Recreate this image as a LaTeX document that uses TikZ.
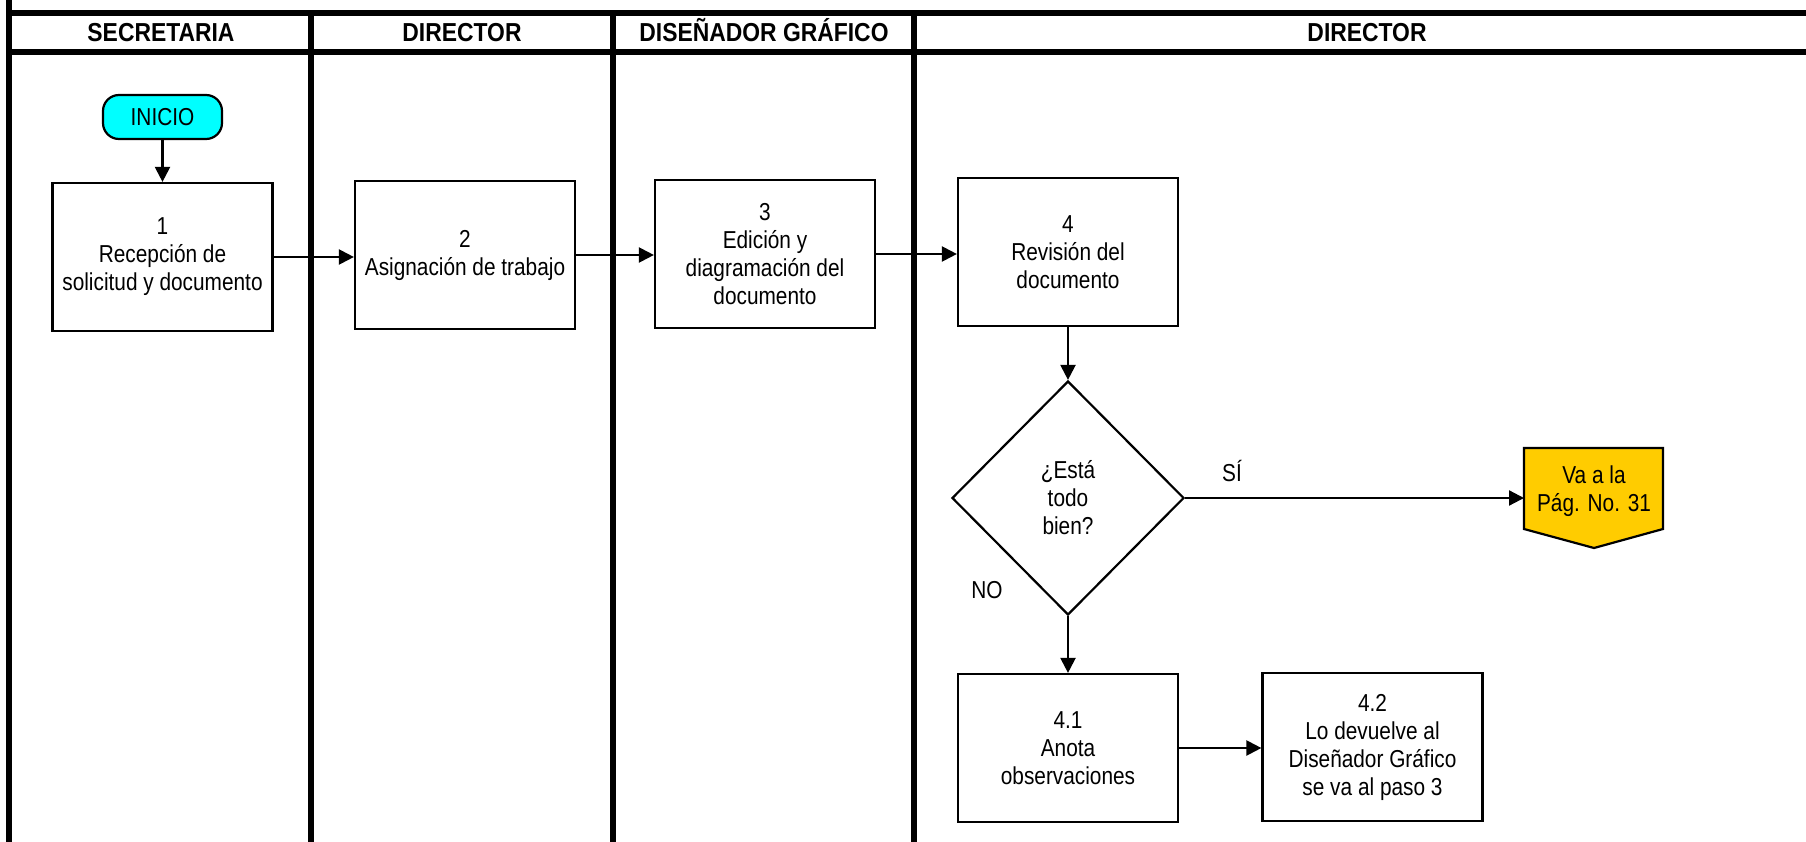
\documentclass[tikz,border=0pt]{standalone}
\usepackage{fontspec}
\setmainfont{Liberation Sans}[FakeStretch=0.85]
\newfontfamily\headfont{Liberation Sans}[FakeStretch=0.88]
\usetikzlibrary{shapes.geometric,arrows.meta}
\definecolor{startcyan}{RGB}{0,255,255}
\definecolor{offgold}{RGB}{255,204,0}
\begin{document}
\begin{tikzpicture}[x=1pt,y=-1pt,
  lane/.style={line width=6pt},
  bodytext/.style={font=\fontsize{24.5}{28}\selectfont},
  head/.style={font=\headfont\bfseries\fontsize{26}{30}\selectfont, anchor=base, inner sep=0pt},
  stepbox/.style={draw, line width=2.2pt, rectangle, minimum width=220pt, minimum height=148pt,
    inner sep=0pt, align=center, bodytext},
  startnode/.style={draw, line width=2.2pt, rectangle, rounded corners=16pt, fill=startcyan,
    minimum width=119pt, minimum height=44pt, inner sep=0pt, bodytext},
  decision/.style={draw, line width=2.2pt, diamond, minimum width=232pt, minimum height=234pt,
    inner sep=0pt, align=center, bodytext},
  flow/.style={line width=2.2pt, -{Triangle[length=15pt,width=15pt]}},
  lbl/.style={inner sep=0pt, bodytext}
]
\useasboundingbox (0,0) rectangle (1806,842);

% swimlane grid
\draw[lane] (9,0) -- (9,842);
\draw[lane] (9,13) -- (1806,13);
\draw[lane] (9,52.5) -- (1806,52.5);
\draw[lane] (311,13) -- (311,842);
\draw[lane] (613,13) -- (613,842);
\draw[lane] (914,13) -- (914,842);

% lane titles
\node[head] (hSec) at (161,42) {SECRETARIA};
\node[head] (hDir) at (462,42) {DIRECTOR};
\node[head] (hDis) at (764,42) {DISEÑADOR GRÁFICO};
\node[head] (hDir2) at (1367,42) {DIRECTOR};

% steps
\node[startnode] (ini) at (162.5,117) {INICIO};
\node[stepbox] (s1) at (162.5,257) {1\\Recepción de\\solicitud y documento};
\node[stepbox] (s2) at (465,255) {2\\Asignación de trabajo};
\node[stepbox] (s3) at (765,254) {3\\Edición y\\diagramación del\\documento};
\node[stepbox] (s4) at (1068,252) {4\\Revisión del\\documento};
\node[decision] (dec) at (1068,498) {¿Está\\todo\\bien?};
\node[stepbox] (s41) at (1068,748) {4.1\\Anota\\observaciones};
\node[stepbox] (s42) at (1372.5,747) {4.2\\Lo devuelve al\\Diseñador Gráfico\\se va al paso 3};

% off-page connector
\draw[line width=2.2pt, fill=offgold] (1524,448) -- (1663,448) -- (1663,529) -- (1594,548) -- (1524,529) -- cycle;
\node[lbl, align=center] (va) at (1594,491) {Va a la\\Pág. No. 31};
\coordinate (vaIn) at (1524,498);

% branch labels
\node[lbl] (si) at (1232,471) {SÍ};
\node[lbl] (no) at (987,590) {NO};

% connectors
\draw[flow] (ini.south) -- (s1.north);
\draw[flow] (s1.east) -- (s1.east -| s2.west);
\draw[flow] (s2.east) -- (s2.east -| s3.west);
\draw[flow] (s3.east) -- (s3.east -| s4.west);
\draw[flow] (s4.south) -- (dec.north);
\draw[flow] (dec.east) -- (vaIn);
\draw[flow] (dec.south) -- (s41.north);
\draw[flow] (s41.east) -- (s41.east -| s42.west);
\end{tikzpicture}
\end{document}
